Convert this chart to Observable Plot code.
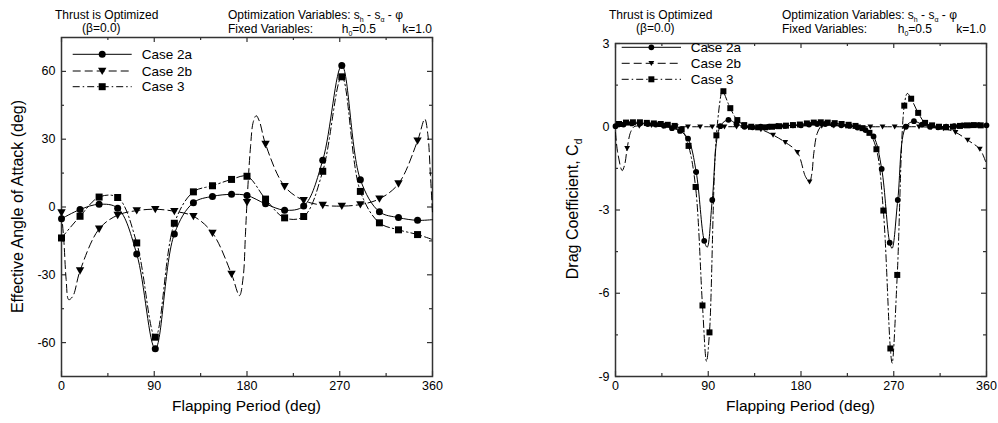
<!DOCTYPE html>
<html><head><meta charset="utf-8">
<script src="https://cdn.jsdelivr.net/npm/d3@7"></script>
<script src="https://cdn.jsdelivr.net/npm/@observablehq/plot@0.6"></script>
<style>
body{margin:0;background:#fff;}
#wrap{position:relative;width:998px;height:423px;font-family:"Liberation Sans",Arial,sans-serif;}
#charts{display:flex;}
#overlay{position:absolute;left:0;top:0;}
</style></head><body>
<div id="wrap"><div id="charts"></div><svg id="overlay" width="998" height="423"></svg></div>
<script>
// ---------- DATA ----------
const seriesNames = ["Case 2a", "Case 2b", "Case 3"];
const xMajor = [0, 90, 180, 270, 360];
const xMinor = [45, 135, 225, 315];
const angTicks = [-60, -30, 0, 30, 60];
const angMinor = [-45, -15, 15, 45];
const cdTicks = [-9, -6, -3, 0, 3];
const cdMinor = [-7.5, -4.5, -1.5, 1.5];

// Left panel: effective angle of attack (deg)
const angX  = [0,18,36.5,54.5,73,91,109.5,128,146.5,165,180,198,216.5,235,253.5,272,290,308.5,327,345.5];
const ang2a = [-5.2,-1.1,1.2,-0.5,-20.8,-62.7,-11.9,1.9,4.7,5.6,5.1,1.4,-1.4,0.4,20.7,62.6,12.1,-2.1,-4.7,-5.9];
const ang2b = [-2.5,-28.2,-9.7,-3.6,-1.6,-1.0,-1.9,-4.1,-11.5,-29.7,2.1,27.8,9.1,2.9,0.8,0.4,1.1,3.6,10.3,29.3];
const ang3  = [-13.7,-4.1,4.4,4.2,-15.9,-57.6,-7.2,6.7,9.4,12.2,13.6,3.5,-4.8,-4.2,15.8,57.6,6.9,-7.0,-10.1,-12.2];
// points on the curves between markers
const ang2aLineX = [360], ang2aLineY = [-5.6];
const ang2bLineX = [2.3,4.5,7,11,172.7,176.3,178.5,183.4,186,188.9,192,352.5,355.5,358,360];
const ang2bLineY = [-15,-32,-41,-39.5,-39.2,-31,-12,26.6,37.5,40.4,38,38.9,32,14,-2.5];
const ang3LineX = [360], ang3LineY = [-14.4];

// Right panel: drag coefficient
const cdX2a = [0,7.8,15.7,23.5,31.3,39.1,47,54.8,62.6,70.4,78.3,86.1,93.9,101.7,109.6,117.4,125.2,133,140.9,148.7,156.5,164.3,172.2,180,187.8,195.7,203.5,211.3,219.1,227,234.8,242.6,250.4,258.3,266.1,273.9,281.7,289.6,297.4,305.2,313,320.9,328.7,336.5,344.3,352.2,360];
const cd2a  = [0.02,0.08,0.12,0.12,0.1,0.08,0.04,-0.05,-0.15,-0.43,-1.63,-4.11,-2.64,0.02,0.25,0.1,0.0,-0.02,0.0,0.0,0.02,0.03,0.05,0.05,0.08,0.1,0.1,0.08,0.05,0.03,-0.03,-0.12,-0.35,-1.52,-4.18,-2.64,0.0,0.2,0.08,0.0,-0.02,0.0,0.02,0.05,0.05,0.06,0.05];
const cd2aLineX = [89, 268.4], cd2aLineY = [-4.34, -4.38];

const cdX2b = [11.3,23.1,34.9,46.7,58.5,70.3,82.1,93.9,105.7,117.5,129.3,141.1,152.9,164.7,176.5,188.3,200.1,211.9,223.7,235.5,247.3,259.1,270.9,282.7,294.5,306.3,318.1,329.9,341.7,353.5];
const cd2b  = [-0.78,0.03,0.05,0.03,0.01,0,0,0,0,0,-0.03,-0.1,-0.3,-0.56,-0.92,-1.98,0.03,0.04,0.02,0,0,0,0,0,0,-0.02,-0.06,-0.2,-0.48,-0.8];
const cd2bLineX = [0,2,6.5,9,14.6,18,184.4,190.5,192.4,195.7,357,360];
const cd2bLineY = [-0.2,-0.9,-1.58,-1.35,-0.2,0.0,-1.8,-1.7,-0.96,-0.24,-1.05,-1.35];

const cdX3 = [3.4,10.2,16.9,23.7,30.4,37.2,43.9,50.7,57.4,64.2,70.9,77.7,84.4,91.2,97.9,104.7,111.4,118.2,124.9,131.7,138.4,145.2,151.9,158.7,165.4,172.2,178.9,185.7,192.4,199.2,205.9,212.7,219.4,226.2,232.9,239.7,246.4,253.2,259.9,266.7,273.4,280.2,286.9,293.7,300.4,307.2,313.9,320.7,327.4,334.2,340.9,347.7,354.4];
const cd3  = [0.1,0.15,0.16,0.16,0.14,0.12,0.1,0.07,0.03,-0.1,-0.69,-2.17,-6.44,-7.41,-0.31,1.28,0.67,0.24,0.06,0.0,-0.02,-0.02,0.0,0.02,0.04,0.06,0.08,0.12,0.15,0.16,0.15,0.13,0.1,0.07,0.03,-0.05,-0.22,-0.81,-3.02,-7.99,-5.34,0.76,1.01,0.5,0.14,0.05,0.0,-0.02,0.0,0.03,0.05,0.06,0.05];
const cd3LineX = [0, 88.3, 103.8, 268.4, 283.2, 360];
const cd3LineY = [0.05, -8.45, 1.36, -8.52, 1.2, 0.05];

// ---------- HELPERS ----------
const pts = (xs, ys) => xs.map((x, i) => ({x, y: ys[i]}));
const merge = (xs, ys, ex, ey) => pts(xs, ys).concat(pts(ex, ey)).sort((a, b) => a.x - b.x);

const triDown = {draw(ctx, size) { const h = Math.sqrt(size / Math.PI); ctx.moveTo(-h, -0.8 * h); ctx.lineTo(h, -0.8 * h); ctx.lineTo(0, 0.95 * h); ctx.closePath(); }};
const square = {draw(ctx, size) { const h = Math.sqrt(size / Math.PI); ctx.rect(-h, -h, 2 * h, 2 * h); }};
const circle = {draw(ctx, size) { const h = Math.sqrt(size / Math.PI); ctx.moveTo(h, 0); ctx.arc(0, 0, h, 0, 2 * Math.PI); }};

const dashes = [null, "8,4", "7,3,1.5,3"];
const symbols = [circle, triDown, square];

function panel(cfg) {
  const W = 499, H = 423, mb = 47;
  const fw = W - cfg.ml - cfg.mr, fh = H - cfg.mt - mb;
  const tk = {stroke: "#333", strokeWidth: 1.2};
  const marks = [
    Plot.axisX(xMajor, {anchor: "bottom", tickSize: 0, tickPadding: 5, tickFormat: d => String(d), label: null}),
    Plot.axisY(cfg.ticks, {anchor: "left", tickSize: 0, tickPadding: 6, tickFormat: d => String(d), label: null}),
    // inward ticks on all four sides
    Plot.tickX(xMajor, {x: d => d, insetTop: fh - 5, ...tk}),
    Plot.tickX(xMinor, {x: d => d, insetTop: fh - 3, ...tk}),
    Plot.tickX(xMajor, {x: d => d, insetBottom: fh - 5, ...tk}),
    Plot.tickX(xMinor, {x: d => d, insetBottom: fh - 3, ...tk}),
    Plot.tickY(cfg.ticks, {y: d => d, insetRight: fw - 5, ...tk}),
    Plot.tickY(cfg.minor, {y: d => d, insetRight: fw - 3, ...tk}),
    Plot.tickY(cfg.ticks, {y: d => d, insetLeft: fw - 5, ...tk}),
    Plot.tickY(cfg.minor, {y: d => d, insetLeft: fw - 3, ...tk}),
    Plot.frame({stroke: "#333", strokeWidth: 1.5})
  ];
  cfg.series.forEach((s, i) => {
    marks.push(Plot.line(s.line, {x: "x", y: "y", curve: "catmull-rom", stroke: "black", strokeWidth: 1, strokeDasharray: dashes[i]}));
  });
  cfg.series.forEach((s, i) => {
    marks.push(Plot.dot(s.dots, {x: "x", y: "y", symbol: symbols[i], r: cfg.r[i], fill: "black", stroke: "none"}));
  });
  return Plot.plot({
    width: W, height: H,
    marginLeft: cfg.ml, marginRight: cfg.mr, marginTop: cfg.mt, marginBottom: mb,
    x: {domain: [0, 360]}, y: {domain: cfg.domain},
    style: {fontFamily: "Liberation Sans, Arial, sans-serif", fontSize: "12.5px", color: "black", background: "white", overflow: "visible"},
    marks
  });
}

const left = panel({
  ml: 61, mr: 67, mt: 37, domain: [-75, 75], ticks: angTicks, minor: angMinor, r: [3.5, 4.2, 3.5],
  series: [
    {dots: pts(angX, ang2a), line: merge(angX, ang2a, ang2aLineX, ang2aLineY)},
    {dots: pts(angX, ang2b), line: merge(angX, ang2b, ang2bLineX, ang2bLineY)},
    {dots: pts(angX, ang3), line: merge(angX, ang3, ang3LineX, ang3LineY)}
  ]
});
const right = panel({
  ml: 116, mr: 12, mt: 43, domain: [-9, 3], ticks: cdTicks, minor: cdMinor, r: [2.9, 2.9, 3.0],
  series: [
    {dots: pts(cdX2a, cd2a), line: merge(cdX2a, cd2a, cd2aLineX, cd2aLineY)},
    {dots: pts(cdX2b, cd2b), line: merge(cdX2b, cd2b, cd2bLineX, cd2bLineY)},
    {dots: pts(cdX3, cd3), line: merge(cdX3, cd3, cd3LineX, cd3LineY)}
  ]
});
document.getElementById("charts").append(left, right);

// ---------- OVERLAY TEXT & LEGENDS ----------
const ov = d3.select("#overlay").style("font-family", "Liberation Sans, Arial, sans-serif");
const headers = [
  {thrustX: 55, betaX: 82, optX: 228, hEnd: 376, kEnd: 432},
  {thrustX: 609, betaX: 636, optX: 782, hEnd: 932, kEnd: 986}
];
headers.forEach(h => {
  ov.append("text").attr("x", h.thrustX).attr("y", 18.5).attr("font-size", 12).text("Thrust is Optimized");
  ov.append("text").attr("x", h.betaX).attr("y", 31.5).attr("font-size", 12).text("(β=0.0)");
  const t = ov.append("text").attr("x", h.optX).attr("y", 18.5).attr("font-size", 12);
  t.append("tspan").text("Optimization Variables: s");
  t.append("tspan").attr("font-size", 7).attr("dy", 3).text("h");
  t.append("tspan").attr("dy", -3).text(" - s");
  t.append("tspan").attr("font-size", 7).attr("dy", 3).text("α");
  t.append("tspan").attr("dy", -3).text(" - φ");
  ov.append("text").attr("x", h.optX).attr("y", 32.5).attr("font-size", 12).text("Fixed Variables:");
  const hv = ov.append("text").attr("x", h.hEnd).attr("y", 32.5).attr("font-size", 12).attr("text-anchor", "end");
  hv.append("tspan").text("h");
  hv.append("tspan").attr("font-size", 7).attr("dy", 3).text("0");
  hv.append("tspan").attr("dy", -3).text("=0.5");
  ov.append("text").attr("x", h.kEnd).attr("y", 32.5).attr("font-size", 12).attr("text-anchor", "end").text("k=1.0");
});

// axis titles
ov.append("text").attr("x", 246.5).attr("y", 411).attr("font-size", 15.5).attr("text-anchor", "middle").text("Flapping Period (deg)");
ov.append("text").attr("x", 800.5).attr("y", 411).attr("font-size", 15.5).attr("text-anchor", "middle").text("Flapping Period (deg)");
ov.append("text").attr("transform", "translate(23,206.5) rotate(-90)").attr("font-size", 16).attr("text-anchor", "middle").text("Effective Angle of Attack (deg)");
const yt = ov.append("text").attr("transform", "translate(578,209) rotate(-90)").attr("font-size", 16).attr("text-anchor", "middle");
yt.append("tspan").text("Drag Coefficient, C");
yt.append("tspan").attr("font-size", 10).attr("dy", 4).text("d");

// legends
const legends = [
  {x1: 72.7, x2: 131.7, tx: 141.7, rows: [54.3, 71, 86.7], r: [3.5, 4.2, 3.5]},
  {x1: 621.7, x2: 681, tx: 690.7, rows: [47.3, 63.3, 79.3], r: [2.9, 2.9, 3.0]}
];
legends.forEach(L => {
  seriesNames.forEach((name, i) => {
    const y = L.rows[i], cx = (L.x1 + L.x2) / 2;
    ov.append("line").attr("x1", L.x1).attr("x2", L.x2).attr("y1", y).attr("y2", y)
      .attr("stroke", "black").attr("stroke-width", 1).attr("stroke-dasharray", dashes[i]);
    const p = d3.path();
    symbols[i].draw(p, L.r[i] * L.r[i] * Math.PI);
    ov.append("path").attr("d", p.toString()).attr("transform", `translate(${cx},${y})`).attr("fill", "black");
    ov.append("text").attr("x", L.tx).attr("y", y + 4.7).attr("font-size", 13.5).text(name);
  });
});
</script>
</body></html>
